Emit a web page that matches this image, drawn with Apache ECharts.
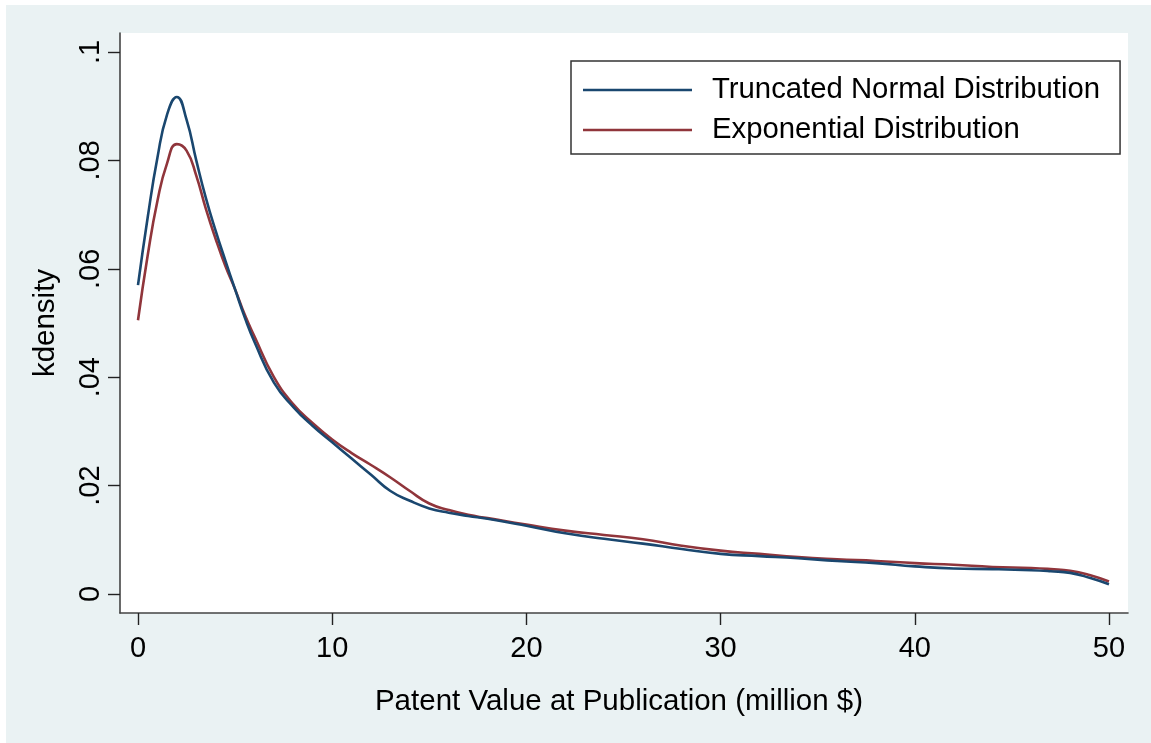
<!DOCTYPE html>
<html>
<head>
<meta charset="utf-8">
<script src="https://cdn.jsdelivr.net/npm/echarts@6/dist/echarts.min.js"></script>
<style>
html,body{margin:0;padding:0;background:#ffffff;width:1151px;height:743px;overflow:hidden;}
#chart{position:absolute;left:6px;top:5px;width:1145px;height:738px;}
</style>
</head>
<body>
<div id="chart"></div>
<script>
const xValues = [0, 0.5, 1, 1.5, 2, 2.5, 3, 3.5, 4, 4.5, 5, 5.5, 6, 7, 8, 9, 10, 11, 12, 13, 14, 15, 16, 17, 18, 20, 22, 24, 26, 28, 30, 32, 34, 36, 38, 40, 42, 44, 46, 47, 48, 49, 50];
const truncNormal = [0.057, 0.0695, 0.0805, 0.0885, 0.0917, 0.0875, 0.080, 0.073, 0.067, 0.0615, 0.0562, 0.051, 0.0465, 0.039, 0.0345, 0.031, 0.028, 0.025, 0.022, 0.019, 0.0172, 0.0158, 0.015, 0.0144, 0.0139, 0.0126, 0.0112, 0.0102, 0.0093, 0.0083, 0.0074, 0.0070, 0.0066, 0.0061, 0.0057, 0.0051, 0.0047, 0.0046, 0.0044, 0.0042, 0.0039, 0.0030, 0.0018];
const exponential = [0.0505, 0.0625, 0.0725, 0.0795, 0.0830, 0.0818, 0.0772, 0.071, 0.0655, 0.0605, 0.0562, 0.0515, 0.0475, 0.040, 0.035, 0.0315, 0.0285, 0.026, 0.0238, 0.0215, 0.019, 0.0167, 0.0155, 0.0146, 0.0140, 0.0128, 0.0117, 0.0109, 0.0101, 0.0089, 0.0080, 0.0074, 0.0068, 0.0064, 0.0061, 0.0057, 0.0054, 0.0050, 0.0048, 0.0046, 0.0043, 0.0035, 0.0023];
const seriesNames = ['Truncated Normal Distribution', 'Exponential Distribution'];
const xTicks = [0, 10, 20, 30, 40, 50];
const yTicks = [0, 0.02, 0.04, 0.06, 0.08, 0.1];
const yTickLabels = ['0', '.02', '.04', '.06', '.08', '.1'];
const xTitle = 'Patent Value at Publication (million $)';
const yTitle = 'kdensity';

const FONT = '"Liberation Sans", Arial, sans-serif';
const chart = echarts.init(document.getElementById('chart'), null, {renderer: 'canvas'});
const pair = (ys) => xValues.map((x, i) => [x, ys[i]]);
const axisColor = '#444444';
const lineIcon = 'path://M0,0H109V2.6H0Z';

chart.setOption({
  animation: false,
  backgroundColor: '#eaf2f3',
  textStyle: {fontFamily: FONT},
  grid: {
    left: 114, top: 28, right: 23, bottom: 130,
    show: true, backgroundColor: '#ffffff', borderWidth: 0,
    containLabel: false
  },
  legend: {
    show: true,
    orient: 'vertical',
    left: 565, top: 56,
    padding: [14, 20, 9, 12],
    itemWidth: 109, itemHeight: 2.6, itemGap: 10,
    backgroundColor: '#ffffff',
    borderColor: '#333333', borderWidth: 1.5,
    textStyle: {fontFamily: FONT, fontSize: 29.3, color: '#000', lineHeight: 30, padding: [0, 0, 0, 15]},
    data: seriesNames.map(n => ({name: n, icon: lineIcon}))
  },
  xAxis: {
    type: 'value',
    min: -0.927, max: 50.98,
    splitLine: {show: false},
    axisLine: {show: true, onZero: false, lineStyle: {color: axisColor, width: 1.6}},
    axisTick: {show: true, length: 12, lineStyle: {color: '#222', width: 1.4}, customValues: xTicks},
    axisLabel: {show: true, customValues: xTicks, fontFamily: FONT, fontSize: 29, color: '#000', margin: 21,
      formatter: (v) => String(v)},
    name: xTitle, nameLocation: 'middle', nameGap: 74,
    nameTextStyle: {fontFamily: FONT, fontSize: 29.5, color: '#000', padding: [0, 10, 0, 0]}
  },
  yAxis: {
    type: 'value',
    min: -0.0035, max: 0.1035,
    splitLine: {show: false},
    axisLine: {show: true, onZero: false, lineStyle: {color: axisColor, width: 1.6}},
    axisTick: {show: true, length: 12, lineStyle: {color: '#222', width: 1.4}, customValues: yTicks},
    axisLabel: {show: true, customValues: yTicks, rotate: 90, fontFamily: FONT, fontSize: 29, color: '#000', margin: 15,
      formatter: (v) => { const i = yTicks.findIndex(t => Math.abs(t - v) < 1e-9); return i >= 0 ? yTickLabels[i] : ''; }},
    name: yTitle, nameLocation: 'middle', nameGap: 59, nameRotate: 90,
    nameTextStyle: {fontFamily: FONT, fontSize: 29.5, color: '#000'}
  },
  series: [
    {name: seriesNames[0], type: 'line', data: pair(truncNormal), smooth: 0.5,
      symbol: 'none', lineStyle: {color: '#1a476f', width: 2.6}, itemStyle: {color: '#1a476f'}, z: 3},
    {name: seriesNames[1], type: 'line', data: pair(exponential), smooth: 0.5,
      symbol: 'none', lineStyle: {color: '#90353b', width: 2.6}, itemStyle: {color: '#90353b'}, z: 2}
  ]
});
</script>
</body>
</html>
